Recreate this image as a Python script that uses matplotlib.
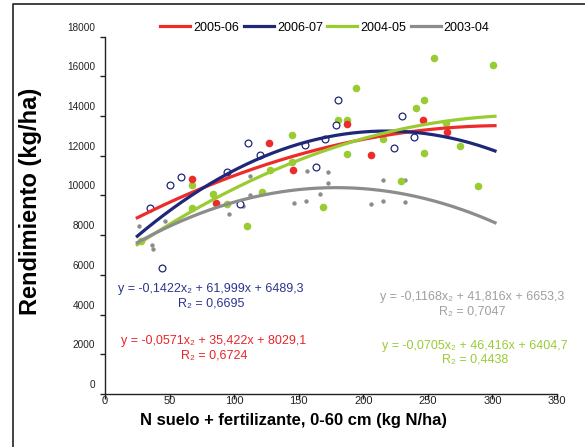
import matplotlib
matplotlib.use("Agg")
import matplotlib.pyplot as plt
import numpy as np
from matplotlib.transforms import ScaledTranslation
from matplotlib.lines import Line2D

plt.rcParams['font.family'] = ['Liberation Sans', 'DejaVu Sans']

# ---- data ----
series = ['2005-06', '2006-07', '2004-05', '2003-04']
colors = {'2005-06': '#EE2B2B', '2006-07': '#1E2778', '2004-05': '#99CC33', '2003-04': '#8C8C8C'}
text_colors = {'2005-06': '#E8262A', '2006-07': '#2B3590', '2004-05': '#99CC33', '2003-04': '#A0A0A0'}

# quadratic fit coefficients (a, b, c): y = a x^2 + b x + c
coef_0506 = [-0.0571, 35.422, 8029.1]
coef_0607 = [-0.1422, 61.999, 6489.3]
coef_0405 = [-0.0705, 46.416, 6404.7]
coef_0304 = [-0.1168, 41.816, 6653.3]
r2 = {'2005-06': '0,6724', '2006-07': '0,6695', '2004-05': '0,4438', '2003-04': '0,7047'}
fit_range = [25, 302]

x_0607 = [34.8, 43.9, 50.3, 59.1, 94.7, 104.5, 110.7, 119.7, 154.8, 163.5, 170.3, 178.8, 180.1, 223.9, 230.1, 239.4]
y_0607 = [9359, 6335, 10518, 10937, 11174, 9591, 12666, 12046, 12550, 11441, 12867, 13573, 14818, 12414, 13996, 12968]

x_0506 = [67.6, 86.2, 126.7, 145.5, 187.1, 205.9, 246.4, 265.2]
y_0506 = [10836, 9611, 12666, 11290, 13593, 12046, 13810, 13220]

x_0405 = [27.9, 67.6, 67.6, 83.4, 94.7, 109.7, 121.5, 127.8, 144.5, 144.5, 169.0, 180.6, 187.1, 187.1,
          194.3, 214.9, 229.3, 240.9, 247.1, 247.1, 254.4, 263.7, 275.0, 288.7, 300.3]
y_0405 = [7711, 10518, 9390, 10065, 9591, 8467, 10196, 11290, 13070, 11678, 9440, 13810, 13810, 12111,
          15422, 12867, 10720, 14399, 14818, 12146, 16950, 13674, 12514, 10468, 16597]

x_0304 = [26.5, 36.4, 37.2, 46.7, 96.2, 106.5, 112.5, 112.5, 146.5, 155.6, 156.6, 166.4, 172.6, 172.6,
          205.9, 215.6, 215.6, 232.2, 232.2]
y_0304 = [8467, 7510, 7300, 8719, 9087, 9490, 10972, 10045, 9611, 9742, 11224, 10065, 11174, 10619,
          9591, 10770, 9742, 10770, 9692]

x_ticks = [0, 50, 100, 150, 200, 250, 300, 350]
y_ticks = [0, 2000, 4000, 6000, 8000, 10000, 12000, 14000, 16000, 18000]

# ---- figure ----
fig = plt.figure(figsize=(5.85, 4.47), dpi=100)
ax = fig.add_axes([105/585, 1-394/447, (557-105)/585, (394-36.7)/447])

xf = np.linspace(fit_range[0], fit_range[1], 200)
def quad(c, x):
    return c[0]*x**2 + c[1]*x + c[2]

# points
ax.scatter(x_0304, y_0304, s=10, color=colors['2003-04'], zorder=2, linewidths=0)
ax.scatter(x_0405, y_0405, s=30, color=colors['2004-05'], zorder=2, linewidths=0)
ax.scatter(x_0506, y_0506, s=30, color=colors['2005-06'], zorder=2, linewidths=0)
ax.scatter(x_0607, y_0607, s=24, facecolors='white', edgecolors=colors['2006-07'], linewidths=0.9, zorder=2)

# fitted curves
handles = []
for name, c in [('2005-06', coef_0506), ('2006-07', coef_0607), ('2004-05', coef_0405), ('2003-04', coef_0304)]:
    h, = ax.plot(xf, quad(c, xf), color=colors[name], lw=2.3, zorder=3, label=name)
    handles.append(h)

ax.set_xlim(0, 350)
ax.set_ylim(0, 18000)
ax.set_xticks(x_ticks)
ax.set_yticks(y_ticks)
ax.spines['top'].set_visible(False)
ax.spines['right'].set_visible(False)
for s in ['left', 'bottom']:
    ax.spines[s].set_linewidth(1.0)
    ax.spines[s].set_color('#222222')
ax.tick_params(axis='both', direction='out', length=3.5, width=1.0, color='#222222', labelcolor='#222222')
ax.tick_params(axis='y', labelsize=7.2, pad=3.5)
ax.tick_params(axis='x', labelsize=8, pad=-2)
for lbl in ax.get_yticklabels():
    lbl.set_transform(lbl.get_transform() + ScaledTranslation(0, 0.1, fig.dpi_scale_trans))

ax.set_xlabel('N suelo + fertilizante, 0-60 cm (kg N/ha)', fontsize=11.9, fontweight='bold', va='center')
ax.xaxis.set_label_coords((294-105)/452, (394-420)/357.3)
ax.set_ylabel('Rendimiento (kg/ha)', fontsize=17, fontweight='bold', va='center')
ax.yaxis.set_label_coords((31-105)/452, (394-201.5)/357.3)

# equations
def eq(c):
    a = f"{c[0]:.4f}".replace('.', ',')
    b = f"{c[1]:.3f}".replace('.', ',')
    k = f"{c[2]:.1f}".replace('.', ',')
    return f"y = {a}x\u2082 + {b}x + {k}"

eqs = [('2006-07', coef_0607, 211, 289, 303),
       ('2005-06', coef_0506, 214, 341, 356),
       ('2003-04', coef_0304, 472, 297, 312),
       ('2004-05', coef_0405, 475, 346, 360)]
for name, c, cx, y1, y2 in eqs:
    fig.text(cx/585, 1-y1/447, eq(c), color=text_colors[name], fontsize=9, ha='center', va='center')
    fig.text(cx/585, 1-y2/447, f"R\u2082 = {r2[name]}", color=text_colors[name], fontsize=9, ha='center', va='center')

fig.legend(handles=handles, loc='center', bbox_to_anchor=(325/585, 1-27.7/447), ncol=4, frameon=False,
           fontsize=9, handlelength=2.4, handletextpad=0.25, columnspacing=0.35, borderpad=0)

# outer frame
fig.add_artist(Line2D([12.7/585, 12.7/585, 1.0], [0, 1-3.5/447, 1-3.5/447], transform=fig.transFigure,
                      color='#333333', lw=1.3))

fig.savefig('out.png', dpi=100)
